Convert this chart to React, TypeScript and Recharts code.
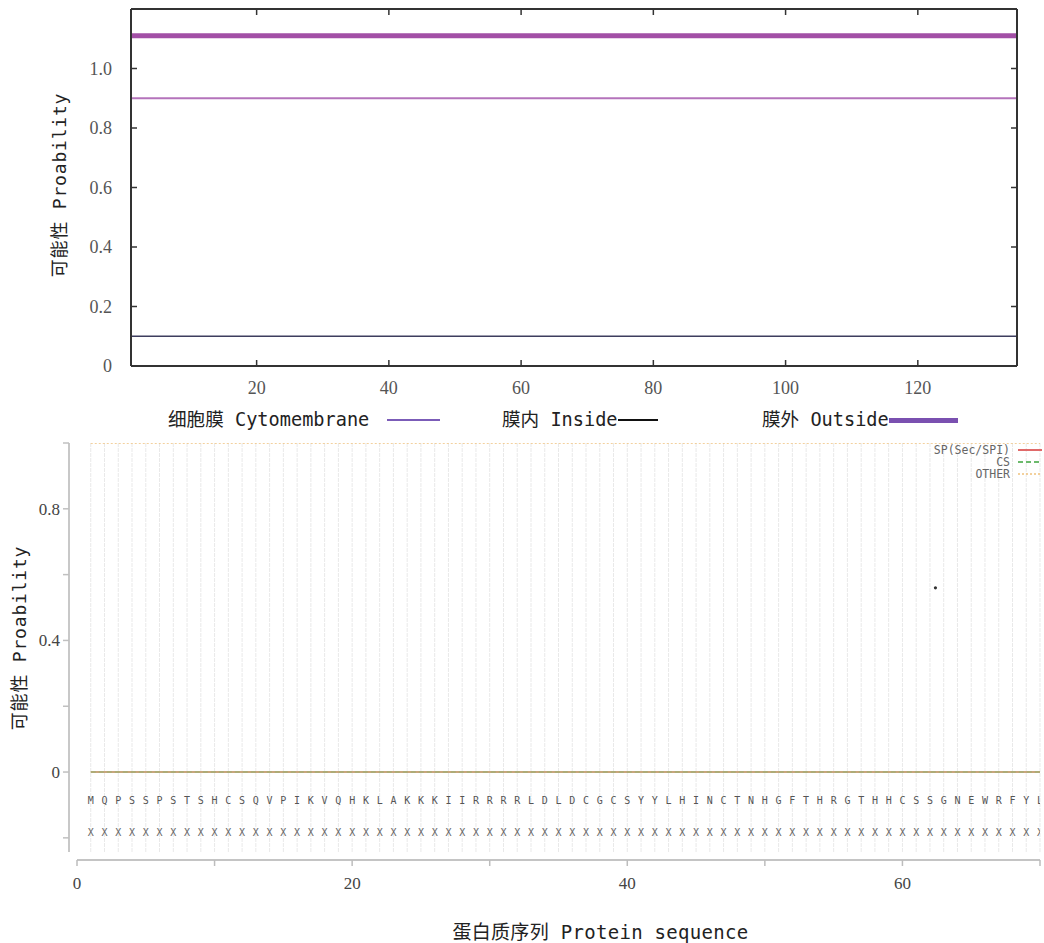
import React from 'react';
import { LineChart, ComposedChart, Line, XAxis, YAxis, Scatter, ReferenceLine } from 'recharts';

// ---------- Top chart data ----------
const topPositions = [1, 135];
const cytomembraneProb = [0.9, 0.9];
const insideProb = [0.1, 0.1];
const outsideProb = [1.11, 1.11];
const topXTicks = [20, 40, 60, 80, 100, 120];
const topYTicks = [0, 0.2, 0.4, 0.6, 0.8, 1.0];

// ---------- Bottom chart data ----------
const sequence = [
  'M','Q','P','S','S','P','S','T','S','H',
  'C','S','Q','V','P','I','K','V','Q','H',
  'K','L','A','K','K','K','I','I','R','R',
  'R','R','L','D','L','D','C','G','C','S',
  'Y','Y','L','H','I','N','C','T','N','H',
  'G','F','T','H','R','G','T','H','H','C',
  'S','S','G','N','E','W','R','F','Y','L',
];
const annotation = 'XXXXXXXXXXXXXXXXXXXXXXXXXXXXXXXXXXXXXXXXXXXXXXXXXXXXXXXXXXXXXXXXXXXXXX'.split('');
const residuePositions = [
  1,2,3,4,5,6,7,8,9,10,11,12,13,14,15,16,17,18,19,20,
  21,22,23,24,25,26,27,28,29,30,31,32,33,34,35,36,37,38,39,40,
  41,42,43,44,45,46,47,48,49,50,51,52,53,54,55,56,57,58,59,60,
  61,62,63,64,65,66,67,68,69,70,
];
const spProb = [
  0,0,0,0,0,0,0,0,0,0,0,0,0,0,0,0,0,0,0,0,
  0,0,0,0,0,0,0,0,0,0,0,0,0,0,0,0,0,0,0,0,
  0,0,0,0,0,0,0,0,0,0,0,0,0,0,0,0,0,0,0,0,
  0,0,0,0,0,0,0,0,0,0,
];
const csProb = [
  0,0,0,0,0,0,0,0,0,0,0,0,0,0,0,0,0,0,0,0,
  0,0,0,0,0,0,0,0,0,0,0,0,0,0,0,0,0,0,0,0,
  0,0,0,0,0,0,0,0,0,0,0,0,0,0,0,0,0,0,0,0,
  0,0,0,0,0,0,0,0,0,0,
];
const otherProb = [
  1,1,1,1,1,1,1,1,1,1,1,1,1,1,1,1,1,1,1,1,
  1,1,1,1,1,1,1,1,1,1,1,1,1,1,1,1,1,1,1,1,
  1,1,1,1,1,1,1,1,1,1,1,1,1,1,1,1,1,1,1,1,
  1,1,1,1,1,1,1,1,1,1,
];
const strayPoints = [{ pos: 62.4, prob: 0.56 }];
const bottomXTicks = [0, 10, 20, 30, 40, 50, 60, 70];
const bottomXLabeled = [0, 20, 40, 60];
const bottomYTicks = [-0.2, 0, 0.2, 0.4, 0.6, 0.8, 1.0];
const bottomYLabeled = [0, 0.4, 0.8];
const SEQ_ROW = -0.087;
const ANN_ROW = -0.183;

const topRows = topPositions.map((p, i) => ({
  pos: p, cyto: cytomembraneProb[i], inside: insideProb[i], outside: outsideProb[i],
}));
const bottomRows = residuePositions.map((p, i) => ({
  pos: p, sp: spProb[i], cs: csProb[i], other: otherProb[i],
}));
const seqRows = residuePositions.map((p, i) => ({ pos: p, prob: SEQ_ROW, aa: sequence[i] }));
const annRows = residuePositions.map((p, i) => ({ pos: p, prob: ANN_ROW, aa: annotation[i] }));

const MONO = "'DejaVu Sans Mono', 'Noto Sans CJK SC', monospace";
const SERIF = "'Liberation Serif', 'DejaVu Serif', serif";
const FRAME = '#333';

const letterShape = (fill: string) => (props: any) => (
  <text
    x={props.cx}
    y={props.cy}
    textAnchor="middle"
    dominantBaseline="central"
    fontFamily={MONO}
    fontSize={10}
    fill={fill}
  >
    {props.payload.aa}
  </text>
);

const dotShape = (props: any) => <circle cx={props.cx} cy={props.cy} r={1.6} fill="#333" />;

const fmtTopY = (v: number) => (v === 0 ? '0' : v.toFixed(1));
const fmtBottomY = (v: number) =>
  bottomYLabeled.some((t) => Math.abs(t - v) < 1e-9) ? (v === 0 ? '0' : v.toFixed(1)) : '';
const fmtBottomX = (v: number) => (bottomXLabeled.includes(v) ? String(v) : '');

const legendText: React.CSSProperties = {
  position: 'absolute',
  fontFamily: MONO,
  fontSize: 18.6,
  color: '#222',
  lineHeight: '24px',
  height: 24,
  whiteSpace: 'pre',
};

export default function App() {
  return (
    <div style={{ position: 'absolute', left: 0, top: 0, width: 1044, height: 943, background: '#fff', overflow: 'hidden' }}>
      {/* ---------- Top chart ---------- */}
      <div style={{ position: 'absolute', left: 0, top: 0 }}>
        <LineChart width={1044} height={400} data={topRows} margin={{ top: 0, right: 0, bottom: 0, left: 0 }}>
          <XAxis
            xAxisId="b"
            dataKey="pos"
            type="number"
            domain={[1, 135]}
            allowDataOverflow
            ticks={topXTicks}
            orientation="bottom"
            height={34}
            tickSize={-6}
            tickMargin={21}
            axisLine={{ stroke: FRAME, strokeWidth: 2 }}
            tickLine={{ stroke: FRAME, strokeWidth: 1.5 }}
            tick={{ fill: '#555', fontSize: 18, fontFamily: SERIF }}
          />
          <XAxis
            xAxisId="t"
            dataKey="pos"
            type="number"
            domain={[1, 135]}
            allowDataOverflow
            ticks={topXTicks}
            orientation="top"
            height={9}
            tickSize={-6}
            tickFormatter={() => ''}
            axisLine={{ stroke: FRAME, strokeWidth: 2 }}
            tickLine={{ stroke: FRAME, strokeWidth: 1.5 }}
          />
          <YAxis
            yAxisId="l"
            type="number"
            domain={[0, 1.2]}
            allowDataOverflow
            ticks={topYTicks}
            width={131}
            tickSize={-6}
            tickMargin={25}
            tickFormatter={fmtTopY}
            axisLine={{ stroke: FRAME, strokeWidth: 2 }}
            tickLine={{ stroke: FRAME, strokeWidth: 1.5 }}
            tick={{ fill: '#555', fontSize: 18, fontFamily: SERIF }}
            label={{
              value: '可能性 Proability',
              angle: -90,
              position: 'center',
              dx: -5.5,
              dy: -2.5,
              fontSize: 18,
              fontFamily: MONO,
              fill: '#222',
              letterSpacing: 0.8,
            }}
          />
          <YAxis
            yAxisId="r"
            orientation="right"
            type="number"
            domain={[0, 1.2]}
            allowDataOverflow
            ticks={topYTicks}
            width={27}
            tickSize={-6}
            tickFormatter={() => ''}
            axisLine={{ stroke: FRAME, strokeWidth: 2 }}
            tickLine={{ stroke: FRAME, strokeWidth: 1.5 }}
          />
          <Line xAxisId="b" yAxisId="l" dataKey="inside" stroke="#3d3d5e" strokeWidth={1.5} dot={false} isAnimationActive={false} />
          <Line xAxisId="b" yAxisId="l" dataKey="cyto" stroke="#b473bb" strokeWidth={2} dot={false} isAnimationActive={false} />
          <Line xAxisId="b" yAxisId="l" dataKey="outside" stroke="#a24fa6" strokeWidth={5} dot={false} isAnimationActive={false} />
        </LineChart>
      </div>

      {/* Top legend */}
      <span style={{ ...legendText, left: 168, top: 408 }}>细胞膜 Cytomembrane</span>
      <div style={{ position: 'absolute', left: 387, top: 419, width: 53, height: 1.5, background: '#7b5cb8' }} />
      <span style={{ ...legendText, left: 502, top: 408 }}>膜内 Inside</span>
      <div style={{ position: 'absolute', left: 618, top: 419, width: 40, height: 2, background: '#111' }} />
      <span style={{ ...legendText, left: 762, top: 408 }}>膜外 Outside</span>
      <div style={{ position: 'absolute', left: 889, top: 418, width: 69, height: 5, background: '#7a50b0' }} />

      {/* ---------- Bottom chart (plot + y axis) ---------- */}
      <div style={{ position: 'absolute', left: 0, top: 430 }}>
        <ComposedChart width={1044} height={430} data={bottomRows} margin={{ top: 13, right: 4, bottom: 8, left: 0 }}>
          <XAxis dataKey="pos" type="number" domain={[0, 70]} allowDataOverflow padding={{ left: 8, right: 0 }} hide />
          <YAxis
            type="number"
            domain={[-0.243, 1]}
            allowDataOverflow
            ticks={bottomYTicks}
            width={69}
            tickSize={6}
            tickMargin={3}
            tickFormatter={fmtBottomY}
            axisLine={{ stroke: '#c8c8c8', strokeWidth: 2 }}
            tickLine={{ stroke: '#c0c0c0', strokeWidth: 1.5 }}
            tick={{ fill: '#444', fontSize: 17, fontFamily: SERIF }}
            label={{
              value: '可能性 Proability',
              angle: -90,
              position: 'center',
              dx: -14.5,
              dy: -9.5,
              fontSize: 18,
              fontFamily: MONO,
              fill: '#222',
              letterSpacing: 0.8,
            }}
          />
          {residuePositions.map((p) => (
            <ReferenceLine key={'g' + p} x={p} stroke="#e9e9e9" strokeWidth={1} strokeDasharray="4 1" />
          ))}
          <Line dataKey="other" stroke="#f0c27e" strokeWidth={1.5} strokeDasharray="2 2" dot={false} isAnimationActive={false} />
          <Line dataKey="sp" stroke="#c8a57c" strokeWidth={2} dot={false} isAnimationActive={false} />
          <Line dataKey="cs" stroke="#a5ad74" strokeWidth={1.5} strokeDasharray="5 3" dot={false} isAnimationActive={false} />
          <Scatter data={seqRows} dataKey="prob" shape={letterShape('#555')} isAnimationActive={false} />
          <Scatter data={annRows} dataKey="prob" shape={letterShape('#666')} isAnimationActive={false} />
          <Scatter data={strayPoints} dataKey="prob" shape={dotShape} isAnimationActive={false} />
        </ComposedChart>
      </div>

      {/* ---------- Bottom chart x axis ---------- */}
      <div style={{ position: 'absolute', left: 0, top: 430 }}>
        <LineChart width={1044} height={513} data={bottomRows} margin={{ top: 13, right: 4, bottom: 0, left: 77 }}>
          <XAxis
            dataKey="pos"
            type="number"
            domain={[0, 70]}
            allowDataOverflow
            ticks={bottomXTicks}
            height={83}
            tickSize={6}
            tickMargin={11}
            tickFormatter={fmtBottomX}
            axisLine={{ stroke: '#c4c4c4', strokeWidth: 2 }}
            tickLine={{ stroke: '#bdbdbd', strokeWidth: 1.5 }}
            tick={{ fill: '#444', fontSize: 17, fontFamily: SERIF }}
            label={{
              value: '蛋白质序列 Protein sequence',
              position: 'insideBottom',
              offset: 4,
              dx: 42,
              fontSize: 19,
              fontFamily: MONO,
              fill: '#222',
              letterSpacing: 0.3,
            }}
          />
          <YAxis hide domain={[-0.243, 1]} />
        </LineChart>
      </div>

      {/* Bottom legend */}
      <div
        style={{
          position: 'absolute',
          right: 34,
          top: 444,
          textAlign: 'right',
          fontFamily: MONO,
          fontSize: 11.5,
          lineHeight: '12px',
          color: '#666',
        }}
      >
        <div>SP(Sec/SPI)</div>
        <div>CS</div>
        <div>OTHER</div>
      </div>
      <svg style={{ position: 'absolute', left: 1016, top: 444 }} width={28} height={36}>
        <line x1={2} x2={26} y1={6} y2={6} stroke="#e06a6a" strokeWidth={2} />
        <line x1={2} x2={26} y1={18} y2={18} stroke="#6cba6c" strokeWidth={2} strokeDasharray="5 3" />
        <line x1={2} x2={26} y1={30} y2={30} stroke="#f0c27e" strokeWidth={1.5} strokeDasharray="2 2" />
      </svg>
    </div>
  );
}
